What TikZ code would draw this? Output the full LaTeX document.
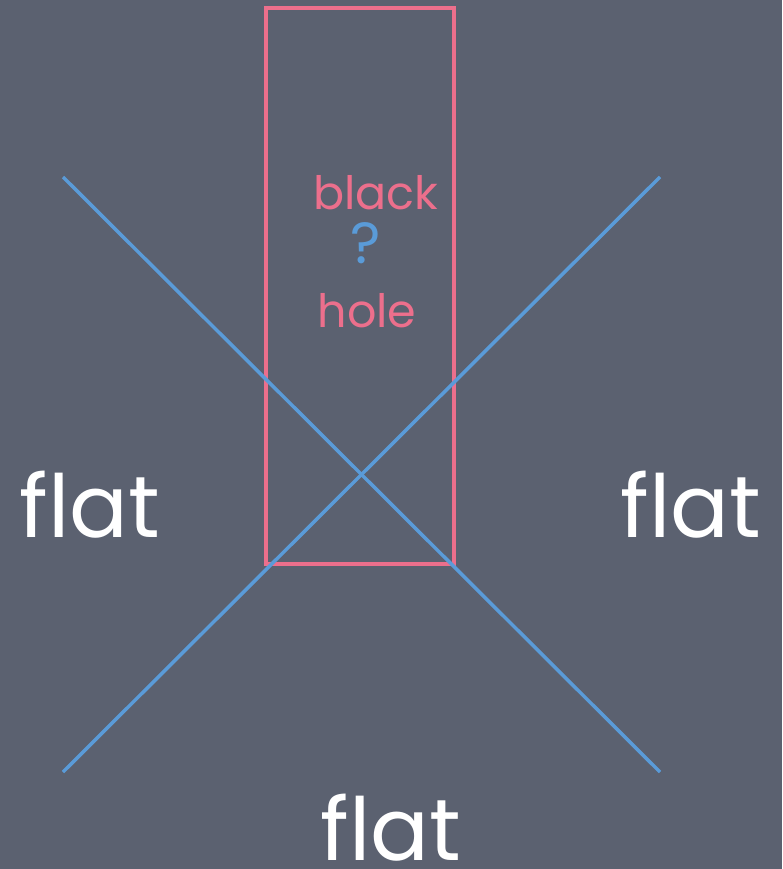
\documentclass[tikz,border=0pt]{standalone}
\usepackage{fontspec}
\setmainfont{Poppins}
\definecolor{board}{HTML}{5B6170}
\definecolor{bhpink}{HTML}{EC6F8C}
\definecolor{lineblue}{HTML}{5A9BD8}
\tikzset{
  pinkbox/.style={draw=bhpink, line width=3.5pt},
  bluestroke/.style={draw=lineblue, line width=3.5pt},
  flatlabel/.style={text=white, font=\fontsize{87}{96}\selectfont, inner sep=0pt},
  pinklabel/.style={text=bhpink, font=\fontsize{46}{54}\selectfont, inner sep=0pt},
}
\begin{document}
\begin{tikzpicture}[x=1pt,y=-1pt]
\fill[board] (0,0) rectangle (782,869);
\useasboundingbox (0,0) rectangle (782,869);
\coordinate (r1) at (266,8);
\coordinate (r2) at (454,564);
\draw[pinkbox] (r1) rectangle (r2);
\coordinate (a1) at (63,177);
\coordinate (a2) at (660,772);
\coordinate (b1) at (660,177);
\coordinate (b2) at (63,772);
\draw[bluestroke] (a1) -- (a2);
\draw[bluestroke] (b1) -- (b2);
\node[pinklabel] (black) at (376,193) {black};
\node[text=lineblue, font=\fontsize{58}{64}\selectfont, inner sep=0pt] (q) at (366,243) {?};
\node[pinklabel] (hole) at (367,311) {hole};
\node[flatlabel] (fl) at (90,505) {flat};
\node[flatlabel] (fr) at (691,505) {flat};
\node[flatlabel] (fb) at (391,828) {flat};
\end{tikzpicture}
\end{document}
